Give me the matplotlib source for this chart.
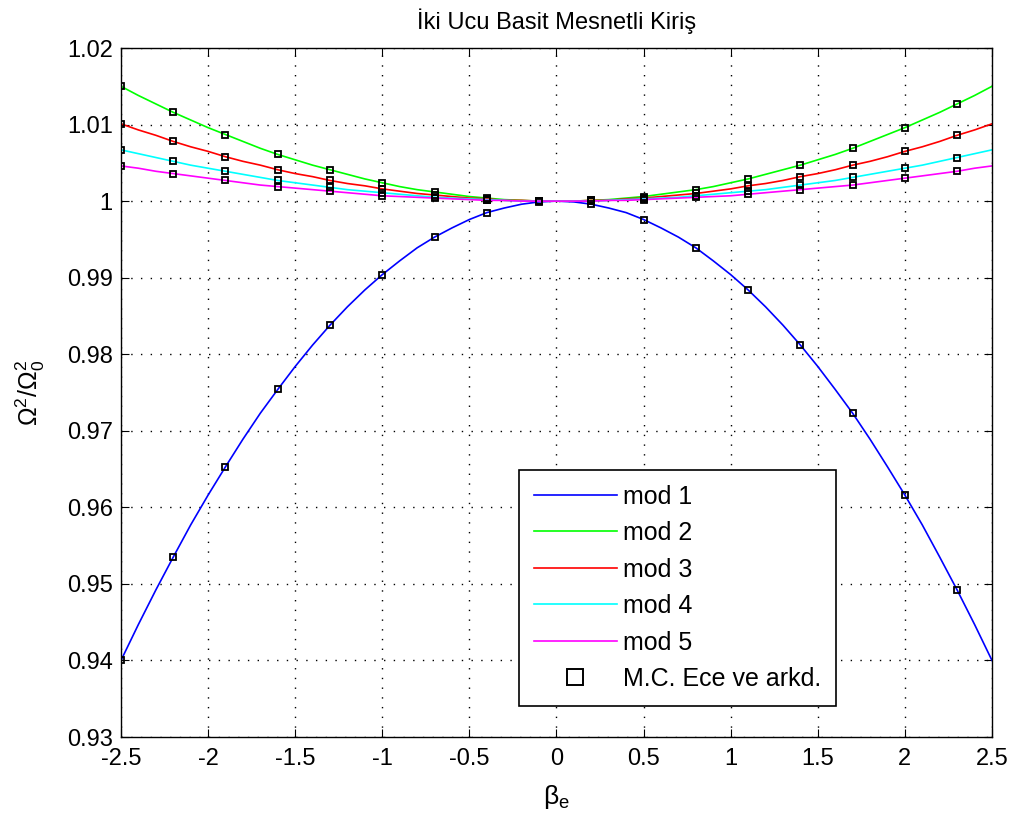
import matplotlib
matplotlib.use('Agg')
import matplotlib.pyplot as plt
from matplotlib.lines import Line2D

plt.rcParams['font.family'] = ['Liberation Sans', 'DejaVu Sans']
plt.rcParams['mathtext.fontset'] = 'custom'
plt.rcParams['mathtext.rm'] = 'Liberation Sans'
plt.rcParams['mathtext.it'] = 'Liberation Sans'

# curve values, beta from -2.5 to 2.5 in steps of 0.1
beta = [-2.5, -2.4, -2.3, -2.2, -2.1, -2.0, -1.9, -1.8, -1.7, -1.6, -1.5, -1.4, -1.3,
        -1.2, -1.1, -1.0, -0.9, -0.8, -0.7, -0.6, -0.5, -0.4, -0.3, -0.2, -0.1, 0.0,
        0.1, 0.2, 0.3, 0.4, 0.5, 0.6, 0.7, 0.8, 0.9, 1.0, 1.1, 1.2, 1.3,
        1.4, 1.5, 1.6, 1.7, 1.8, 1.9, 2.0, 2.1, 2.2, 2.3, 2.4, 2.5]
mod1 = [0.9400, 0.9447, 0.9492, 0.9535, 0.9577, 0.9616, 0.9653, 0.9689, 0.9723, 0.9754, 0.9784, 0.9812, 0.9838,
        0.9862, 0.9884, 0.9904, 0.9922, 0.9939, 0.9953, 0.9965, 0.9976, 0.9985, 0.9991, 0.9996, 0.9999, 1.0000,
        0.9999, 0.9996, 0.9991, 0.9985, 0.9976, 0.9965, 0.9953, 0.9939, 0.9922, 0.9904, 0.9884, 0.9862, 0.9838,
        0.9812, 0.9784, 0.9754, 0.9723, 0.9689, 0.9653, 0.9616, 0.9577, 0.9535, 0.9492, 0.9447, 0.9400]
mod2 = [1.0150, 1.0138, 1.0127, 1.0116, 1.0106, 1.0096, 1.0087, 1.0078, 1.0069, 1.0061, 1.0054, 1.0047, 1.0041,
        1.0035, 1.0029, 1.0024, 1.0019, 1.0015, 1.0012, 1.0009, 1.0006, 1.0004, 1.0002, 1.0001, 1.0000, 1.0000,
        1.0000, 1.0001, 1.0002, 1.0004, 1.0006, 1.0009, 1.0012, 1.0015, 1.0019, 1.0024, 1.0029, 1.0035, 1.0041,
        1.0047, 1.0054, 1.0061, 1.0069, 1.0078, 1.0087, 1.0096, 1.0106, 1.0116, 1.0127, 1.0138, 1.0150]
mod3 = [1.0101, 1.0093, 1.0086, 1.0078, 1.0071, 1.0065, 1.0058, 1.0052, 1.0047, 1.0041, 1.0036, 1.0032, 1.0027,
        1.0023, 1.0020, 1.0016, 1.0013, 1.0010, 1.0008, 1.0006, 1.0004, 1.0003, 1.0001, 1.0001, 1.0000, 1.0000,
        1.0000, 1.0001, 1.0001, 1.0003, 1.0004, 1.0006, 1.0008, 1.0010, 1.0013, 1.0016, 1.0020, 1.0023, 1.0027,
        1.0032, 1.0036, 1.0041, 1.0047, 1.0052, 1.0058, 1.0065, 1.0071, 1.0078, 1.0086, 1.0093, 1.0101]
mod4 = [1.0067, 1.0062, 1.0057, 1.0052, 1.0047, 1.0043, 1.0039, 1.0035, 1.0031, 1.0027, 1.0024, 1.0021, 1.0018,
        1.0015, 1.0013, 1.0011, 1.0009, 1.0007, 1.0005, 1.0004, 1.0003, 1.0002, 1.0001, 1.0000, 1.0000, 1.0000,
        1.0000, 1.0000, 1.0001, 1.0002, 1.0003, 1.0004, 1.0005, 1.0007, 1.0009, 1.0011, 1.0013, 1.0015, 1.0018,
        1.0021, 1.0024, 1.0027, 1.0031, 1.0035, 1.0039, 1.0043, 1.0047, 1.0052, 1.0057, 1.0062, 1.0067]
mod5 = [1.0046, 1.0043, 1.0039, 1.0036, 1.0033, 1.0030, 1.0027, 1.0024, 1.0021, 1.0019, 1.0017, 1.0015, 1.0013,
        1.0011, 1.0009, 1.0007, 1.0006, 1.0005, 1.0004, 1.0003, 1.0002, 1.0001, 1.0001, 1.0000, 1.0000, 1.0000,
        1.0000, 1.0000, 1.0001, 1.0001, 1.0002, 1.0003, 1.0004, 1.0005, 1.0006, 1.0007, 1.0009, 1.0011, 1.0013,
        1.0015, 1.0017, 1.0019, 1.0021, 1.0024, 1.0027, 1.0030, 1.0033, 1.0036, 1.0039, 1.0043, 1.0046]

# reference points (M.C. Ece ve arkd.)
beta_ref = [-2.5, -2.2, -1.9, -1.6, -1.3, -1.0, -0.7, -0.4, -0.1,
            0.2, 0.5, 0.8, 1.1, 1.4, 1.7, 2.0, 2.3]
ref1 = [0.9400, 0.9535, 0.9653, 0.9754, 0.9838, 0.9904, 0.9953, 0.9985, 0.9999,
        0.9996, 0.9976, 0.9939, 0.9884, 0.9812, 0.9723, 0.9616, 0.9492]
ref2 = [1.0150, 1.0116, 1.0087, 1.0061, 1.0041, 1.0024, 1.0012, 1.0004, 1.0000,
        1.0001, 1.0006, 1.0015, 1.0029, 1.0047, 1.0069, 1.0096, 1.0127]
ref3 = [1.0101, 1.0078, 1.0058, 1.0041, 1.0027, 1.0016, 1.0008, 1.0003, 1.0000,
        1.0001, 1.0004, 1.0010, 1.0020, 1.0032, 1.0047, 1.0065, 1.0086]
ref4 = [1.0067, 1.0052, 1.0039, 1.0027, 1.0018, 1.0011, 1.0005, 1.0002, 1.0000,
        1.0000, 1.0003, 1.0007, 1.0013, 1.0021, 1.0031, 1.0043, 1.0057]
ref5 = [1.0046, 1.0036, 1.0027, 1.0019, 1.0013, 1.0007, 1.0004, 1.0001, 1.0000,
        1.0000, 1.0002, 1.0005, 1.0009, 1.0015, 1.0021, 1.0030, 1.0039]

labels = ['mod 1', 'mod 2', 'mod 3', 'mod 4', 'mod 5']
colors = ['#0000ff', '#00ff00', '#ff0000', '#00ffff', '#ff00ff']
xticks = [-2.5, -2, -1.5, -1, -0.5, 0, 0.5, 1, 1.5, 2, 2.5]
xticklabels = ['-2.5', '-2', '-1.5', '-1', '-0.5', '0', '0.5', '1', '1.5', '2', '2.5']
yticks = [0.93, 0.94, 0.95, 0.96, 0.97, 0.98, 0.99, 1.0, 1.01, 1.02]
yticklabels = ['0.93', '0.94', '0.95', '0.96', '0.97', '0.98', '0.99', '1', '1.01', '1.02']

fig = plt.figure(figsize=(10.14, 8.21), dpi=100)
ax = fig.add_axes([0.1193, 0.1023, 0.8590, 0.8392])

handles = []
for ys, c, lab in zip([mod1, mod2, mod3, mod4, mod5], colors, labels):
    h, = ax.plot(beta, ys, color=c, lw=1.2, label=lab)
    handles.append(h)
for ys in [ref1, ref2, ref3, ref4, ref5]:
    ax.plot(beta_ref, ys, ls='none', marker='s', ms=4, mfc='none', mec='black', mew=1.3, zorder=3)

ref_handle = Line2D([], [], ls='none', marker='s', ms=11, mfc='none', mec='black', mew=1.4)
handles.append(ref_handle)

ax.set_xlim(-2.5, 2.5)
ax.set_ylim(0.93, 1.02)
ax.set_xticks(xticks)
ax.set_xticklabels(xticklabels)
ax.set_yticks(yticks)
ax.set_yticklabels(yticklabels)
ax.tick_params(direction='in', top=True, right=True, labelsize=17, length=6, width=0.8)
ax.tick_params(axis='x', pad=8)
ax.tick_params(axis='y', pad=6)
ax.grid(True, color='black', linestyle=(0, (1, 6)), linewidth=1.0)
for s in ax.spines.values():
    s.set_linewidth(1.0)

ax.set_title('İki Ucu Basit Mesnetli Kiriş', fontsize=17, pad=14)
ax.set_xlabel(r'$\beta_e$', fontsize=19, labelpad=9)
ax.set_ylabel(r'$\Omega^2/\Omega_0^2$', fontsize=18, labelpad=14)

leg = ax.legend(handles, labels + ['M.C. Ece ve arkd.'], loc='lower left',
                bbox_to_anchor=(0.457, 0.045), borderaxespad=0, fontsize=18, fancybox=False,
                edgecolor='black', framealpha=1, handlelength=3.3, labelspacing=0.5,
                borderpad=0.6, handletextpad=0.25)
leg.get_frame().set_linewidth(1.2)

fig.savefig('out.png', dpi=100, facecolor='white')
